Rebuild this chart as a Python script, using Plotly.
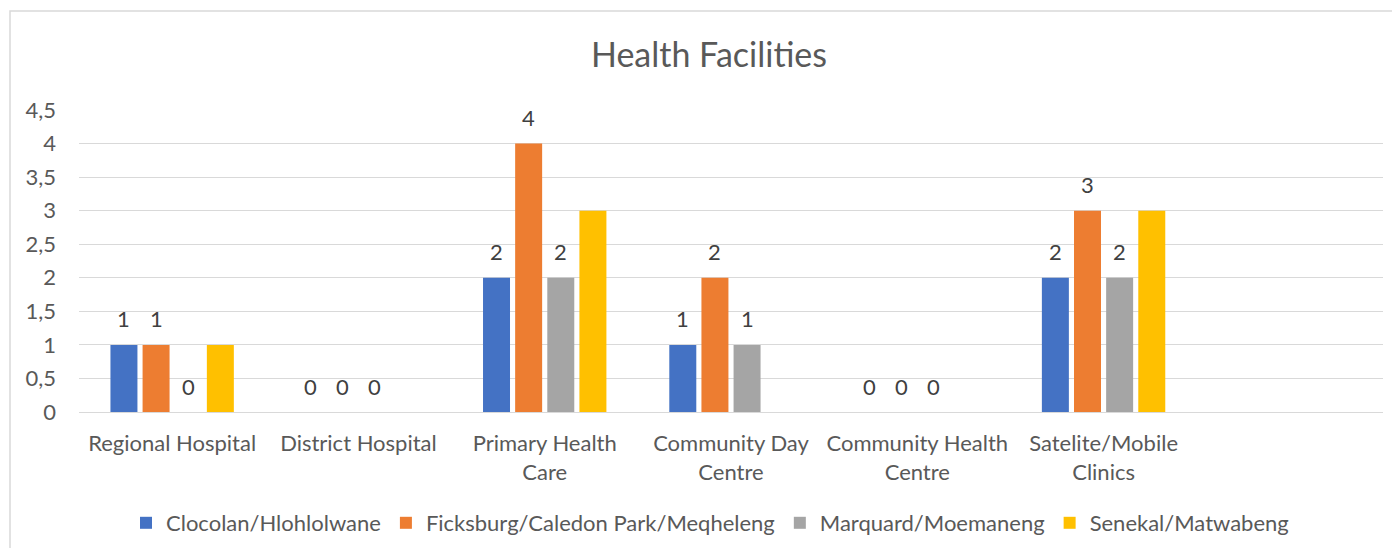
import plotly.graph_objects as go

categories = ["Regional Hospital", "District Hospital", "Primary Health<br>Care",
              "Community Day<br>Centre", "Community Health<br>Centre", "Satelite/Mobile<br>Clinics", ""]
series_names = ["Clocolan/Hlohlolwane", "Ficksburg/Caledon Park/Meqheleng",
                "Marquard/Moemaneng", "Senekal/Matwabeng"]
clocolan = [1, 0, 2, 1, 0, 2, None]
ficksburg = [1, 0, 4, 2, 0, 3, None]
marquard = [0, 0, 2, 1, 0, 2, None]
senekal = [1, None, 3, None, None, 3, None]
show_labels = [True, True, True, False]
y_ticks = [0, 0.5, 1, 1.5, 2, 2.5, 3, 3.5, 4, 4.5]

colors = ["#4472C4", "#ED7D31", "#A5A5A5", "#FFC000"]
font = "Lato, Open Sans, sans-serif"
txt = "#595959"

# page body has an 8px margin; figure sized to fit the window
W, H = 1384, 540
ml, mr, mt, mb = 71, 9, 102, 136
bargap = 0.31
plot_w = W - ml - mr
plot_h = H - mt - mb

x = list(range(len(categories)))
fig = go.Figure()
all_vals = [clocolan, ficksburg, marquard, senekal]
for name, vals, c in zip(series_names, all_vals, colors):
    fig.add_trace(go.Bar(x=x, y=vals, name=name, marker=dict(color=c, line=dict(width=0))))

cat_w = plot_w / len(categories)
slot = cat_w * (1 - bargap) / len(all_vals)
for i, (vals, show) in enumerate(zip(all_vals, show_labels)):
    if not show:
        continue
    xs = (i - (len(all_vals) - 1) / 2) * slot
    for xi, v in zip(x, vals):
        if v is None:
            continue
        fig.add_annotation(x=xi, y=v, text=str(v), showarrow=False, xshift=xs, yshift=26,
                           yanchor="middle", font=dict(family=font, size=22, color="#404040"))

# chart border
fig.add_shape(type="rect", xref="paper", yref="paper",
              x0=(2 - ml) / plot_w, x1=(1400 - ml) / plot_w,
              y0=-1.0, y1=(H - mb - 3) / plot_h,
              line=dict(color="#D9D9D9", width=1.5), fillcolor="rgba(0,0,0,0)", layer="below")

fig.update_layout(
    width=W, height=H, barmode="group", bargap=bargap, bargroupgap=0.16,
    margin=dict(l=ml, r=mr, t=mt, b=mb, autoexpand=False),
    paper_bgcolor="white", plot_bgcolor="white", separators=", ",
    title=dict(text="Health Facilities", x=(709 - 8) / W, xanchor="center", y=1 - 47 / H, yanchor="middle",
               font=dict(family=font, size=34, color=txt)),
    font=dict(family=font, color=txt),
    legend=dict(orientation="h", x=(710 - 8 - ml) / plot_w, xanchor="center", y=(H - mb - 515) / plot_h,
                yanchor="middle", font=dict(family=font, size=22, color=txt),
                itemwidth=30, tracegroupgap=0),
    xaxis=dict(tickmode="array", tickvals=x, ticktext=categories, range=[-0.5, len(categories) - 0.5],
               showgrid=False, showline=False, ticks="", ticklabelstandoff=16,
               tickfont=dict(family=font, size=22, color=txt)),
    yaxis=dict(range=[0, 4.5], tickvals=y_ticks, showgrid=True, gridcolor="#D9D9D9", gridwidth=1,
               zeroline=True, zerolinecolor="#D9D9D9", zerolinewidth=1, ticks="",
               ticklabelstandoff=22, tickfont=dict(family=font, size=22, color=txt)),
)

fig.write_html("out.html")
